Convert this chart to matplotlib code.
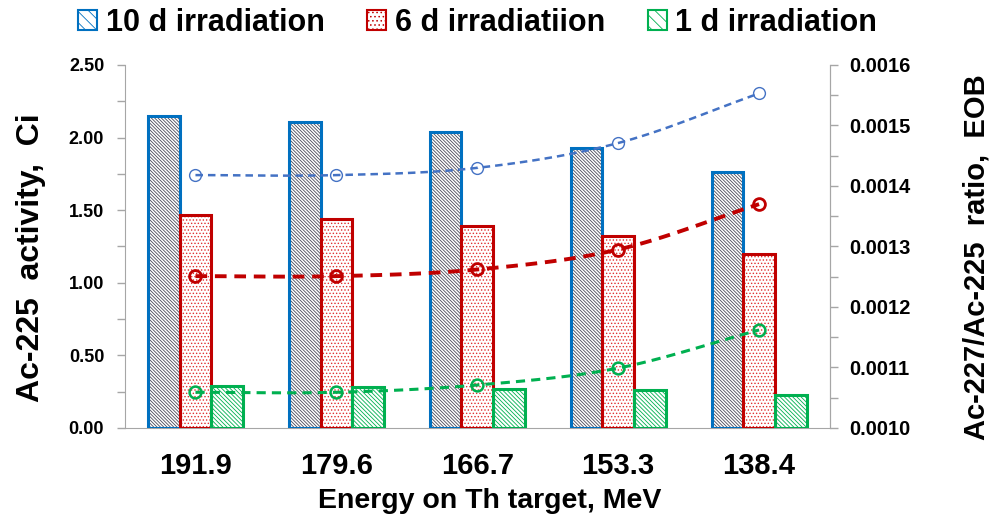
import matplotlib
matplotlib.use("Agg")
import matplotlib.pyplot as plt
import numpy as np
from matplotlib.patches import Patch
from matplotlib.ticker import MultipleLocator, FormatStrFormatter

plt.rcParams['font.family'] = ['Liberation Sans', 'DejaVu Sans']
plt.rcParams['font.weight'] = 'bold'
plt.rcParams['hatch.linewidth'] = 0.6

# data
energies = ['191.9', '179.6', '166.7', '153.3', '138.4']
series_names = ['10 d irradiation', '6 d irradiatiion', '1 d irradiation']
activity_10d = [2.15, 2.11, 2.04, 1.93, 1.76]
activity_6d = [1.47, 1.44, 1.39, 1.32, 1.20]
activity_1d = [0.29, 0.28, 0.27, 0.26, 0.23]
ratio_10d = [0.001418, 0.001418, 0.001430, 0.001471, 0.001553]
ratio_6d = [0.001251, 0.001251, 0.001262, 0.001295, 0.001370]
ratio_1d = [0.001059, 0.001059, 0.001071, 0.001099, 0.001162]

blue_edge = '#0070C0'
red_edge = '#C00000'
green_edge = '#00B050'


def smooth(x, y, n=20):
    # catmull-rom style curve through the points (like excel smoothed lines)
    x = np.asarray(x, float)
    y = np.asarray(y, float)
    px = np.concatenate([[2 * x[0] - x[1]], x, [2 * x[-1] - x[-2]]])
    py = np.concatenate([[2 * y[0] - y[1]], y, [2 * y[-1] - y[-2]]])
    xs, ys = [], []
    t = np.linspace(0, 1, n)
    for i in range(1, len(px) - 2):
        for p, out in ((px, xs), (py, ys)):
            p0, p1, p2, p3 = p[i - 1], p[i], p[i + 1], p[i + 2]
            out.extend(0.5 * ((2 * p1) + (-p0 + p2) * t
                              + (2 * p0 - 5 * p1 + 4 * p2 - p3) * t ** 2
                              + (-p0 + 3 * p1 - 3 * p2 + p3) * t ** 3))
    return np.array(xs), np.array(ys)


fig = plt.figure(figsize=(9.97, 5.25), dpi=100)
ax = fig.add_axes([0.1254, 0.1848, 0.7066, 0.6914])
ax2 = ax.twinx()

x = np.arange(len(energies))
w = 0.225
bars = [(activity_10d, -w, blue_edge, '#4a4a5a', '\\' * 10),
        (activity_6d, 0, red_edge, '#E03030', '.....'),
        (activity_1d, w, green_edge, green_edge, '\\' * 8)]
for vals, off, ec, hc, hatch in bars:
    # hatch layer, then outline on top
    ax.bar(x + off, vals, w, color='white', edgecolor=hc, hatch=hatch, linewidth=0, zorder=2)
    ax.bar(x + off, vals, w, color='none', edgecolor=ec, linewidth=2.2, zorder=3)

lines = [(ratio_10d, '#4472C4', 1.8, 1.0),
         (ratio_6d, red_edge, 2.8, 2.0),
         (ratio_1d, green_edge, 2.2, 1.8)]
for vals, c, lw, mew in lines:
    sx, sy = smooth(x, vals)
    ax2.plot(sx, sy, color=c, lw=lw, ls=(0, (3, 2)), zorder=4)
    ax2.plot(x, vals, ls='none', marker='o', ms=8.5, mfc='none', mec=c, mew=mew, zorder=5)

ax.set_xlim(-0.5, len(energies) - 0.5)
ax.set_ylim(0, 2.5)
ax2.set_ylim(0.001, 0.0016)
ax.set_zorder(ax2.get_zorder() - 1)
ax.patch.set_visible(False)
ax2.patch.set_visible(False)

ax.set_xticks(x)
ax.set_xticklabels(energies, fontsize=21, fontweight='bold')
ax.tick_params(axis='x', length=0, pad=17)
ax.yaxis.set_major_locator(MultipleLocator(0.5))
ax.yaxis.set_minor_locator(MultipleLocator(0.25))
ax.yaxis.set_major_formatter(FormatStrFormatter('%.2f'))
ax2.yaxis.set_major_locator(MultipleLocator(0.0001))
ax2.yaxis.set_minor_locator(MultipleLocator(0.00005))
ax2.yaxis.set_major_formatter(FormatStrFormatter('%.4f'))
ax.tick_params(axis='y', which='both', colors='#A6A6A6', labelcolor='black',
               labelsize=13, length=6, width=1, pad=9)
ax2.tick_params(axis='y', which='both', colors='#A6A6A6', labelcolor='black',
                labelsize=14.5, length=6, width=1, pad=8)
for a in (ax, ax2):
    for s in a.spines.values():
        s.set_color('#A6A6A6')
    a.spines['top'].set_visible(False)
ax2.spines['left'].set_visible(False)
ax2.spines['bottom'].set_visible(False)
for lbl in ax.get_yticklabels() + ax2.get_yticklabels():
    lbl.set_fontweight('bold')

ax.set_xlabel('Energy on Th target, MeV', fontsize=20.5, fontweight='bold')
ax.xaxis.set_label_coords(0.517, -0.165)
ax.set_ylabel('Ac-225  activity,  Ci', fontsize=23, fontweight='bold')
ax.yaxis.set_label_coords(-0.112, 0.468)
ax2.set_ylabel('Ac-227/Ac-225  ratio,  EOB', fontsize=21, fontweight='bold', rotation=90)
ax2.yaxis.set_label_coords(1.189, 0.471)

handles = [Patch(facecolor='white', edgecolor=blue_edge, hatch='\\\\\\', linewidth=1.5),
           Patch(facecolor='white', edgecolor=red_edge, hatch='....', linewidth=1.5),
           Patch(facecolor='white', edgecolor=green_edge, hatch='\\\\\\', linewidth=1.5)]
fig.legend(handles, series_names, loc='upper left', bbox_to_anchor=(78 / 997, 1 - 8 / 525),
           ncol=3, frameon=False, prop={'size': 22, 'weight': 'bold'},
           handlelength=0.62, handleheight=0.62, handletextpad=0.28,
           columnspacing=1.4, borderpad=0, borderaxespad=0)

fig.savefig('out.png', dpi=100)
